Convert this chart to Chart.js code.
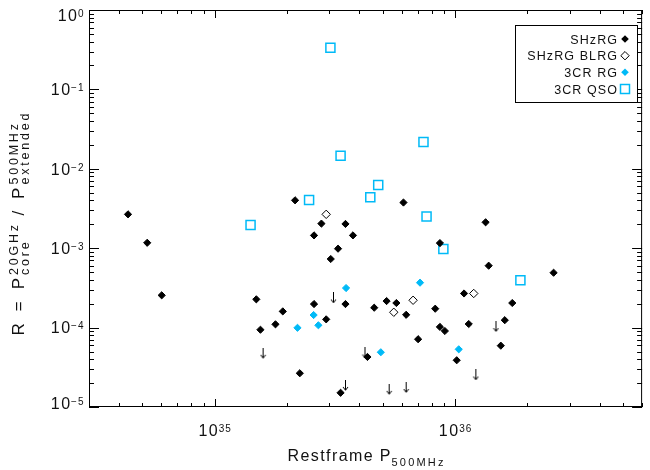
<!DOCTYPE html>
<html><head><meta charset="utf-8">
<script src="https://cdn.jsdelivr.net/npm/chart.js@4/dist/chart.umd.min.js"></script>
<style>html,body{margin:0;padding:0;background:#fff;}canvas{display:block;}</style>
</head><body>
<canvas id="c" width="650" height="470" style="width:650px;height:470px"></canvas>
<script>
// ---- data ----
const shzrgP = [4.36e34, 5.24e34, 6.02e34, 1.49e35, 1.55e35, 1.79e35, 1.92e35, 2.16e35, 2.26e35, 2.59e35, 2.59e35, 2.78e35, 2.91e35, 3.04e35, 3.26e35, 3.34e35, 3.50e35, 3.50e35, 3.76e35, 4.32e35, 4.61e35, 5.19e35, 5.70e35, 6.10e35, 6.26e35, 7.02e35, 8.27e35, 8.65e35, 8.65e35, 9.07e35, 1.016e36, 1.09e36, 1.14e36, 1.34e36, 1.38e36, 1.55e36, 1.61e36, 1.73e36, 2.57e36];
const shzrgR = [2.67e-3, 1.17e-3, 2.55e-4, 2.27e-4, 9.4e-5, 1.10e-4, 1.60e-4, 4.01e-3, 2.66e-5, 1.98e-4, 1.45e-3, 2.04e-3, 1.27e-4, 7.31e-4, 9.86e-4, 1.51e-5, 2.02e-3, 1.98e-4, 1.45e-3, 4.27e-5, 1.78e-4, 2.16e-4, 2.04e-4, 3.76e-3, 1.45e-4, 7.14e-5, 1.73e-4, 1.16e-3, 1.02e-4, 9.06e-5, 3.88e-5, 2.69e-4, 1.11e-4, 2.12e-3, 6.02e-4, 5.92e-5, 1.24e-4, 2.04e-4, 4.91e-4];
const blrgP = [2.91e35, 5.56e35, 6.69e35, 1.196e36];
const blrgR = [2.67e-3, 1.56e-4, 2.21e-4, 2.69e-4];
const rgP = [2.21e35, 2.58e35, 2.70e35, 3.52e35, 4.91e35, 7.15e35, 1.036e36];
const rgR = [9.94e-5, 1.44e-4, 1.07e-4, 3.15e-4, 4.89e-5, 3.68e-4, 5.33e-5];
const qsoP = [1.41e35, 2.47e35, 3.03e35, 3.34e35, 4.44e35, 4.79e35, 7.39e35, 7.61e35, 8.94e35, 1.87e36];
const qsoR = [1.96e-3, 4.05e-3, 0.335, 1.46e-2, 4.39e-3, 6.25e-3, 2.18e-2, 2.51e-3, 9.77e-4, 3.94e-4];
const limitP = [1.59e35, 3.12e35, 3.50e35, 4.22e35, 5.32e35, 6.26e35, 1.22e36, 1.48e36];
const limitR = [4.75e-5, 2.36e-4, 1.87e-5, 4.79e-5, 1.67e-5, 1.76e-5, 2.53e-5, 1.03e-4];

const legendLabels = ['SHzRG', 'SHzRG BLRG', '3CR RG', '3CR QSO'];
const xTickExponents = [35, 36];
const yTickExponents = [0, -1, -2, -3, -4, -5];
const xRange = [3e34, 6e36];
const yRange = [1e-5, 1];

// ---- styles ----
const CYAN = 'rgb(0,186,247)';
const FONT = '"Liberation Sans", Arial, sans-serif';
const pts = (xs, ys) => xs.map((v, i) => ({x: v, y: ys[i]}));

function makeArrow() {
  const c = document.createElement('canvas');
  c.width = 7; c.height = 11;
  const g = c.getContext('2d');
  g.strokeStyle = '#000'; g.lineWidth = 1;
  g.beginPath();
  g.moveTo(3.5, 0); g.lineTo(3.5, 10);
  g.moveTo(1, 7); g.lineTo(3.5, 10.3); g.lineTo(6, 7);
  g.stroke();
  return c;
}

function spacedWidth(ctx, text, sp) {
  let w = 0; for (const ch of text) w += ctx.measureText(ch).width + sp;
  return w - sp;
}
function drawSpaced(ctx, text, x, y, sp) {
  for (const ch of text) { ctx.fillText(ch, x, y); x += ctx.measureText(ch).width + sp; }
  return x - sp;
}

const MAIN = 16, MAINSP = 1.5, EXP = 10, EXPSP = 1;
function powWidth(ctx, exp) {
  ctx.font = MAIN + 'px ' + FONT;
  const w1 = spacedWidth(ctx, '10', MAINSP);
  ctx.font = EXP + 'px ' + FONT;
  const w2 = spacedWidth(ctx, exp, EXPSP);
  return [w1, w2, w1 + 1 + w2];
}
function drawPow(ctx, e, x, cy, align) {
  const exp = e < 0 ? '\u2212' + Math.abs(e) : String(e);
  const [w1, w2, tot] = powWidth(ctx, exp);
  const sx = align === 'right' ? x - tot : x - tot / 2;
  const base = cy + 5.7;
  ctx.font = MAIN + 'px ' + FONT;
  drawSpaced(ctx, '10', sx, base, MAINSP);
  ctx.font = EXP + 'px ' + FONT;
  drawSpaced(ctx, exp, sx + w1 + 1, base - 4, EXPSP);
}

const axesPlugin = {
  id: 'idlAxes',
  beforeDatasetsDraw(chart) {
    const {ctx, chartArea: a, scales: {x, y}} = chart;
    ctx.save();
    ctx.strokeStyle = '#000'; ctx.lineWidth = 1;
    ctx.strokeRect(a.left + 0.5, a.top + 0.5, a.right - a.left - 1, a.bottom - a.top - 1);
    ctx.beginPath();
    for (let d = Math.floor(Math.log10(x.min)); d <= Math.ceil(Math.log10(x.max)); d++) {
      for (let m = 1; m < 10; m++) {
        const v = m * Math.pow(10, d);
        if (v < x.min * 0.999 || v > x.max * 1.001) continue;
        const px = Math.round(x.getPixelForValue(v)) + 0.5;
        const len = m === 1 ? 8 : 4;
        ctx.moveTo(px, a.bottom); ctx.lineTo(px, a.bottom - len);
        ctx.moveTo(px, a.top); ctx.lineTo(px, a.top + len);
      }
    }
    for (let d = Math.floor(Math.log10(y.min)); d <= Math.ceil(Math.log10(y.max)); d++) {
      for (let m = 1; m < 10; m++) {
        const v = m * Math.pow(10, d);
        if (v < y.min * 0.999 || v > y.max * 1.001) continue;
        const py = Math.round(y.getPixelForValue(v)) + 0.5;
        const len = m === 1 ? 10 : 5;
        ctx.moveTo(a.left, py); ctx.lineTo(a.left + len, py);
        ctx.moveTo(a.right, py); ctx.lineTo(a.right - len, py);
      }
    }
    ctx.stroke();

    ctx.fillStyle = '#111';
    ctx.textBaseline = 'alphabetic';
    xTickExponents.forEach(e => {
      drawPow(ctx, e, x.getPixelForValue(Math.pow(10, e)), 430, 'center');
    });
    yTickExponents.forEach(e => {
      let cy = y.getPixelForValue(Math.pow(10, e));
      cy = Math.min(Math.max(cy, a.top + 5.5), a.bottom - 4);
      drawPow(ctx, e, a.left - 5.5, cy, 'right');
    });

    // x title
    const tMain = 'Restframe P', tSub = '500MHz';
    ctx.font = MAIN + 'px ' + FONT;
    const wm = spacedWidth(ctx, tMain, 1.4);
    ctx.font = '11px ' + FONT;
    const ws = spacedWidth(ctx, tSub, 2.2);
    const cx = (a.left + a.right) / 2;
    let sx = cx - (wm + 1 + ws) / 2;
    ctx.font = MAIN + 'px ' + FONT;
    sx = drawSpaced(ctx, tMain, sx, 461, 1.4);
    ctx.font = '11px ' + FONT;
    drawSpaced(ctx, tSub, sx + 1, 466, 2.2);

    // y title (rotated)
    const segs = [
      {m: 'R = P'}, {sup: '20GHz', sub: 'core'}, {m: ' / P'}, {sup: '500MHz', sub: 'extended'}
    ];
    const YM = 17, YMSP = 3.6, SC = 12.5, SCSP = 2.8;
    const widths = segs.map(s => {
      if (s.m) { ctx.font = YM + 'px ' + FONT; return spacedWidth(ctx, s.m, YMSP) + 2; }
      ctx.font = SC + 'px ' + FONT;
      return Math.max(spacedWidth(ctx, s.sup, SCSP), spacedWidth(ctx, s.sub, SCSP)) + 2;
    });
    const total = widths.reduce((p, c) => p + c, 0);
    const yc = 224;
    ctx.save();
    ctx.translate(24, yc + total / 2);
    ctx.rotate(-Math.PI / 2);
    let tx = 0;
    segs.forEach((s, i) => {
      if (s.m) {
        ctx.font = YM + 'px ' + FONT;
        drawSpaced(ctx, s.m, tx, 0, YMSP);
      } else {
        ctx.font = SC + 'px ' + FONT;
        drawSpaced(ctx, s.sup, tx + 1, -6, SCSP);
        drawSpaced(ctx, s.sub, tx + 1, 4.5, SCSP);
      }
      tx += widths[i];
    });
    ctx.restore();
    ctx.restore();
  },
  afterDraw(chart) {
    const {ctx} = chart;
    ctx.save();
    ctx.strokeStyle = '#000'; ctx.lineWidth = 1;
    ctx.fillStyle = '#fff';
    ctx.fillRect(515, 25, 123, 77);
    ctx.strokeRect(515.5, 25.5, 122, 77);
    ctx.font = '12.5px ' + FONT;
    ctx.fillStyle = '#111';
    const rows = [39, 55.7, 72.3, 89];
    const symX = 625;
    legendLabels.forEach((t, i) => {
      const w = spacedWidth(ctx, t, 1.1);
      drawSpaced(ctx, t, 617 - w, rows[i] + 4.5, 1.1);
    });
    const diamond = (cx, cy, r) => {
      ctx.beginPath(); ctx.moveTo(cx, cy - r); ctx.lineTo(cx + r, cy); ctx.lineTo(cx, cy + r); ctx.lineTo(cx - r, cy); ctx.closePath();
    };
    diamond(symX, rows[0], 3.8); ctx.fillStyle = '#000'; ctx.fill();
    diamond(symX, rows[1], 4.2); ctx.strokeStyle = '#000'; ctx.stroke();
    diamond(symX, rows[2], 3.8); ctx.fillStyle = CYAN; ctx.fill();
    ctx.strokeStyle = CYAN; ctx.lineWidth = 1.5;
    ctx.strokeRect(symX - 4.5, rows[3] - 4.5, 9, 9);
    ctx.restore();
  }
};

new Chart(document.getElementById('c'), {
  type: 'scatter',
  data: {
    datasets: [
      {label: 'SHzRG', data: pts(shzrgP, shzrgR), pointStyle: 'rectRot', pointRadius: 3.6,
       backgroundColor: '#000', borderColor: '#000', borderWidth: 1},
      {label: 'SHzRG BLRG', data: pts(blrgP, blrgR), pointStyle: 'rectRot', pointRadius: 4.2,
       backgroundColor: '#fff', borderColor: '#000', borderWidth: 1},
      {label: '3CR RG', data: pts(rgP, rgR), pointStyle: 'rectRot', pointRadius: 3.6,
       backgroundColor: CYAN, borderColor: CYAN, borderWidth: 1},
      {label: '3CR QSO', data: pts(qsoP, qsoR), pointStyle: 'rect', pointRadius: 6.4,
       backgroundColor: 'rgba(0,0,0,0)', borderColor: CYAN, borderWidth: 1.5},
      {label: 'upper limits', data: pts(limitP, limitR), pointStyle: makeArrow(), pointRadius: 5}
    ]
  },
  options: {
    responsive: false,
    animation: false,
    events: [],
    layout: {padding: {left: 89, top: 10, right: 1, bottom: 63}},
    plugins: {legend: {display: false}, tooltip: {enabled: false}},
    scales: {
      x: {type: 'logarithmic', min: xRange[0], max: xRange[1], display: false},
      y: {type: 'logarithmic', min: yRange[0], max: yRange[1], display: false}
    }
  },
  plugins: [axesPlugin]
});
</script>
</body></html>
